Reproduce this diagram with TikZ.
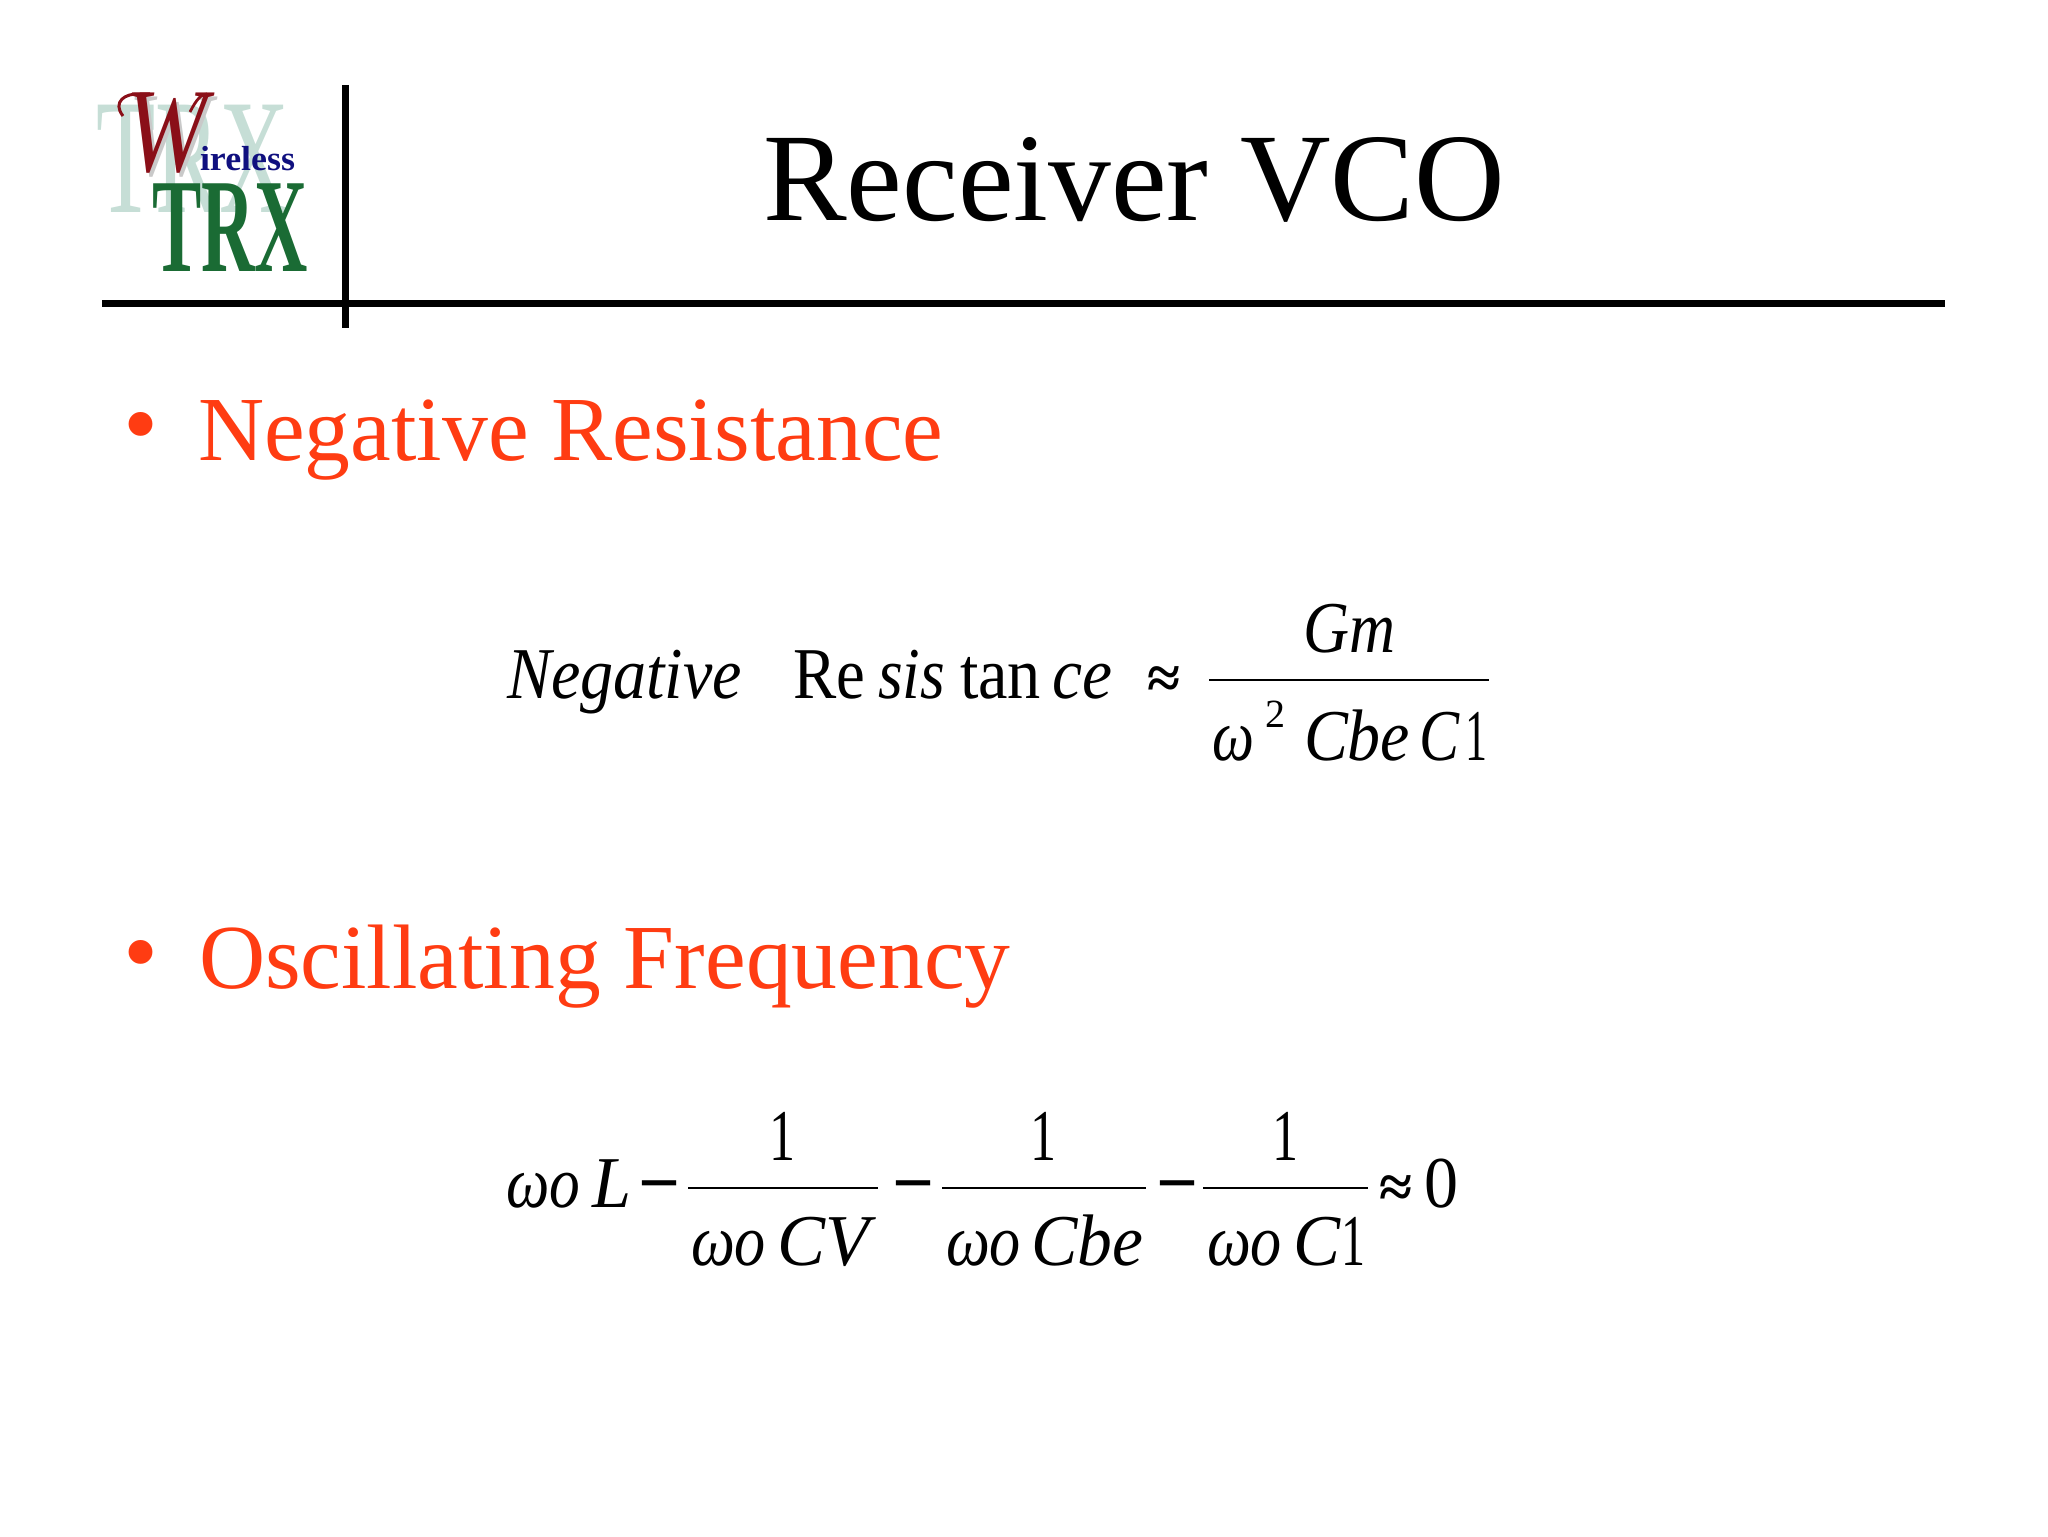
\documentclass[tikz,border=0pt]{standalone}
\usepackage{fontspec}
\usepackage{graphicx}
\setmainfont{Liberation Serif}
\definecolor{headred}{HTML}{FF3C12}
\definecolor{logored}{HTML}{8A0F18}
\definecolor{logogray}{HTML}{C9C9C9}
\definecolor{logopale}{HTML}{C6DED6}
\definecolor{logogreen}{HTML}{1A6B34}
\definecolor{logoblue}{HTML}{10107F}
\tikzset{
  txt/.style={inner sep=0pt,outer sep=0pt,anchor=base west},
  fracbar/.style={line width=1.4pt,black},
  rulebar/.style={line width=3.5pt,black},
}
% name, x, baseline, width in px, font commands, text
\newcommand{\eqfit}[6]{\node[txt] (#1) at (#2,#3) {\fontsize{36.5pt}{40pt}\selectfont #5\resizebox{\dimexpr #4pt/2\relax}{\height}{#6}};}
\newcommand{\logofit}[7]{\node[txt,text=#7] (#1) at (#2,#3) {\fontsize{#5pt}{#5pt}\selectfont\resizebox{\dimexpr #4pt/2\relax}{\height}{#6}};}
\begin{document}
\begin{tikzpicture}[x=0.5pt,y=-0.5pt]
\useasboundingbox (0,0) rectangle (2048,1536);
% logo
\logofit{paleTRX}{96}{213}{194}{82}{TRX}{logopale}
\logofit{wshadow}{128}{175}{82}{60}{\itshape W}{logogray}
\draw[logored,line width=1.5pt] (123,116) .. controls (112,102) and (125,93) .. (140,94) -- (150,94);
\draw[logored,line width=1.4pt] (190,112) .. controls (196,100) and (202,93) .. (207,94);
\logofit{wmain}{125}{171}{82}{60}{\itshape W}{logored}
\logofit{ireless}{200}{170}{95}{17.4}{\bfseries ireless}{logoblue}
\logofit{greenTRX}{152}{271}{156}{67}{\bfseries TRX}{logogreen}
% rules
\coordinate (hl) at (102,303);
\coordinate (hr) at (1945,303);
\coordinate (vt) at (345,85);
\coordinate (vb) at (345,328);
\draw[rulebar] (hl) -- (hr);
\draw[rulebar] (vt) -- (vb);
% title
\node[txt] (title) at (763,220) {\fontsize{62.7pt}{66pt}\selectfont Receiver VCO};
% headings
\node[txt,text=headred] (b1) at (123,457) {\fontsize{50pt}{50pt}\selectfont •};
\node[txt,text=headred] (h1) at (198,460) {\fontsize{45.8pt}{50pt}\selectfont Negative Resistance};
\node[txt,text=headred] (b2) at (123,985) {\fontsize{50pt}{50pt}\selectfont •};
\node[txt,text=headred] (h2) at (199,988) {\fontsize{45.8pt}{50pt}\selectfont Oscillating Frequency};
% equation 1
\eqfit{a1}{507}{698}{235}{\itshape}{Negative}
\eqfit{a2}{793}{698}{72}{}{Re}
\eqfit{a3}{878}{698}{67}{\itshape}{sis}
\eqfit{a4}{960}{698}{81}{}{tan}
\eqfit{a5}{1052}{698}{60}{\itshape}{ce}
\node[txt] (a6) at (1147,698) {\fontsize{30pt}{30pt}\selectfont\bfseries ≈};
\eqfit{a7}{1303}{652}{92}{\itshape}{Gm}
\coordinate (f1l) at (1209,680);
\coordinate (f1r) at (1489,680);
\draw[fracbar] (f1l) -- (f1r);
\eqfit{a8}{1212}{760}{42}{\itshape}{ω}
\node[txt] (a9) at (1265,727) {\fontsize{20pt}{20pt}\selectfont 2};
\eqfit{a10}{1304}{760}{106}{\itshape}{Cbe}
\eqfit{a11}{1419}{760}{40}{\itshape}{C}
\eqfit{a12}{1465}{760}{22}{}{1}
% equation 2
\eqfit{c1}{506}{1207}{74}{\itshape}{ωo}
\eqfit{c2}{592}{1207}{39}{\itshape}{L}
\eqfit{c3}{638}{1207}{42}{\bfseries}{−}
\coordinate (g1l) at (688,1188);
\coordinate (g1r) at (878,1188);
\draw[fracbar] (g1l) -- (g1r);
\eqfit{c4}{769}{1160}{26}{}{1}
\eqfit{c5}{691}{1265}{75}{\itshape}{ωo}
\eqfit{c6}{777}{1265}{92}{\itshape}{CV}
\eqfit{c7}{892}{1207}{42}{\bfseries}{−}
\coordinate (g2l) at (942,1188);
\coordinate (g2r) at (1146,1188);
\draw[fracbar] (g2l) -- (g2r);
\eqfit{c8}{1030}{1160}{26}{}{1}
\eqfit{c9}{946}{1265}{75}{\itshape}{ωo}
\eqfit{c10}{1031}{1265}{112}{\itshape}{Cbe}
\eqfit{c11}{1156}{1207}{42}{\bfseries}{−}
\coordinate (g3l) at (1203,1188);
\coordinate (g3r) at (1368,1188);
\draw[fracbar] (g3l) -- (g3r);
\eqfit{c12}{1272}{1160}{26}{}{1}
\eqfit{c13}{1207}{1265}{75}{\itshape}{ωo}
\eqfit{c14}{1293}{1265}{47}{\itshape}{C}
\eqfit{c15}{1341}{1265}{24}{}{1}
\node[txt] (c16) at (1379,1207) {\fontsize{30pt}{30pt}\selectfont\bfseries ≈};
\eqfit{c17}{1424}{1207}{34}{}{0}
\end{tikzpicture}
\end{document}
